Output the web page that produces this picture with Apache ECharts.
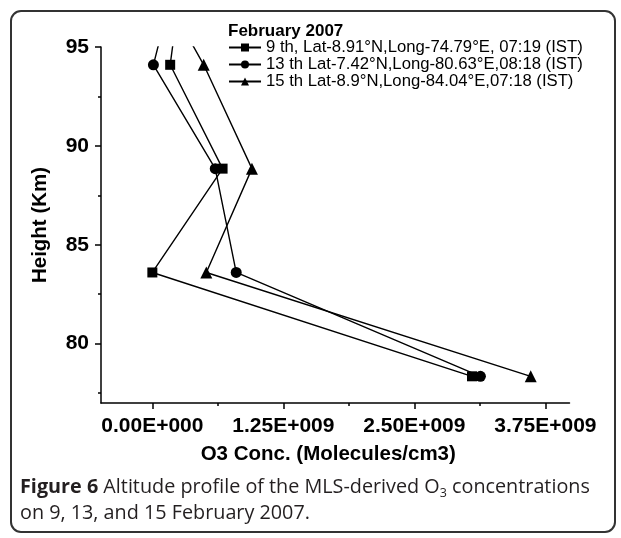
<!DOCTYPE html>
<html>
<head>
<meta charset="utf-8">
<script src="https://cdn.jsdelivr.net/npm/echarts@6/dist/echarts.min.js"></script>
<style>
html, body { margin: 0; padding: 0; background: #fff; }
#chart { width: 621px; height: 538px; }
</style>
</head>
<body>
<div id="chart"></div>
<script>
// heights in km; the top level is above 95 km and only shows as clipped stubs
const heights = [99.3, 94.1, 88.85, 83.6, 78.35]
const o3Feb9 = [0.30e9, 0.17e9, 0.67e9, 0.0, 3.05e9]
const o3Feb13 = [0.26e9, 0.01e9, 0.60e9, 0.80e9, 3.13e9]
const o3Feb15 = [-0.06e9, 0.49e9, 0.95e9, 0.515e9, 3.61e9]
const seriesNames = [
  '9 th, Lat-8.91°N,Long-74.79°E, 07:19 (IST)',
  '13 th Lat-7.42°N,Long-80.63°E,08:18 (IST)',
  '15 th Lat-8.9°N,Long-84.04°E,07:18 (IST)',
]
const xTickLabels = [0, 1.25e9, 2.5e9, 3.75e9]
const xMinorTicks = [0.625e9, 1.875e9, 3.125e9]
const yTickLabels = [80, 85, 90, 95]
const yMinorTicks = [77.5, 82.5, 87.5, 92.5]

const font = 'Liberation Sans, Arial, sans-serif'

function sci(v) {
  if (v === 0) return '0.00E+000'
  const e = Math.floor(Math.log10(v))
  const m = v / Math.pow(10, e)
  return m.toFixed(2) + 'E+' + String(e).padStart(3, '0')
}

function makeSeries(name, values, symbol, size) {
  return {
    name: name,
    type: 'line',
    data: heights.map((h, i) => [values[i], h]),
    symbol: symbol,
    symbolSize: size,
    clip: true,
    itemStyle: { color: '#000' },
    lineStyle: { color: '#000', width: 1.4 },
  }
}

const chart = echarts.init(document.getElementById('chart'))
chart.setOption({
  animation: false,
  backgroundColor: '#fff',
  title: [
    {
      text: 'February 2007',
      left: 228,
      top: 23,
      padding: 0,
      textStyle: { fontSize: 17, fontWeight: 'bold', fontFamily: font, color: '#000' },
    },
    {
      text: '{b|Figure 6} Altitude profile of the MLS-derived O{sub|3} concentrations\non 9, 13, and 15 February 2007.',
      left: 20,
      top: 474,
      padding: 0,
      textStyle: {
        fontSize: 19.8,
        fontWeight: 'normal',
        fontFamily: 'Open Sans',
        color: '#231f20',
        lineHeight: 26,
        rich: {
          b: { fontSize: 19.8, fontWeight: 'bold', fontFamily: 'Open Sans', color: '#231f20', lineHeight: 26 },
          sub: { fontSize: 12.5, fontFamily: 'Open Sans', color: '#231f20', verticalAlign: 'bottom', lineHeight: 20 },
        },
      },
    },
  ],
  legend: {
    data: seriesNames,
    orient: 'vertical',
    left: 228,
    top: 39,
    padding: 0,
    itemGap: 0,
    itemWidth: 32,
    itemHeight: 10,
    textStyle: { fontSize: 16.7, fontFamily: font, color: '#000', lineHeight: 16.5 },
  },
  grid: { left: 101, top: 47, width: 468.5, height: 356 },
  xAxis: [
    {
      type: 'value',
      min: -0.49e9,
      max: 3.98e9,
      position: 'bottom',
      name: 'O3 Conc. (Molecules/cm3)',
      nameLocation: 'middle',
      nameGap: 41,
      nameTextStyle: { fontSize: 20.5, fontWeight: 'bold', fontFamily: font, color: '#000', padding: [0, 14, 0, 0] },
      axisLine: { onZero: false, lineStyle: { color: '#000', width: 1.5 } },
      axisTick: { customValues: xTickLabels, length: 6, lineStyle: { color: '#000', width: 1.5 } },
      axisLabel: {
        customValues: xTickLabels,
        formatter: sci,
        margin: 13,
        fontSize: 21,
        fontWeight: 'bold',
        fontFamily: font,
        color: '#000',
      },
      splitLine: { show: false },
    },
    {
      type: 'value',
      min: -0.49e9,
      max: 3.98e9,
      position: 'bottom',
      offset: 0,
      axisLine: { show: false, onZero: false },
      axisTick: { customValues: xMinorTicks, length: 3, lineStyle: { color: '#000', width: 1.5 } },
      axisLabel: { show: false },
      splitLine: { show: false },
    },
  ],
  yAxis: [
    {
      type: 'value',
      min: 77,
      max: 95,
      position: 'left',
      name: 'Height (Km)',
      nameLocation: 'middle',
      nameGap: 50,
      nameRotate: 90,
      nameTextStyle: { fontSize: 20.5, fontWeight: 'bold', fontFamily: font, color: '#000' },
      axisLine: { show: true, onZero: false, lineStyle: { color: '#000', width: 1.5 } },
      axisTick: { show: true, customValues: yTickLabels, length: 6, lineStyle: { color: '#000', width: 1.5 } },
      axisLabel: {
        customValues: yTickLabels,
        margin: 12,
        fontSize: 21,
        fontWeight: 'bold',
        fontFamily: font,
        color: '#000',
      },
      splitLine: { show: false },
    },
    {
      type: 'value',
      min: 77,
      max: 95,
      position: 'left',
      offset: 0,
      axisLine: { show: false, onZero: false },
      axisTick: { show: true, customValues: yMinorTicks, length: 3, lineStyle: { color: '#000', width: 1.5 } },
      axisLabel: { show: false },
      splitLine: { show: false },
    },
  ],
  series: [
    makeSeries(seriesNames[0], o3Feb9, 'rect', 10),
    makeSeries(seriesNames[1], o3Feb13, 'circle', 11),
    makeSeries(seriesNames[2], o3Feb15, 'triangle', 12),
  ],
  graphic: [
    {
      type: 'rect',
      shape: { x: 11, y: 11, width: 604, height: 521, r: 10 },
      style: { fill: null, stroke: '#333', lineWidth: 2 },
      silent: true,
    },
  ],
})
</script>
</body>
</html>
